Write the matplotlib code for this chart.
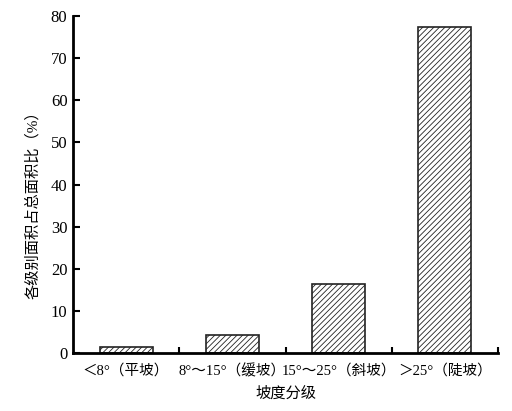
import matplotlib
matplotlib.use('Agg')
import matplotlib.pyplot as plt
import numpy as np

plt.rcParams['font.family'] = ['Liberation Serif', 'Noto Sans CJK SC', 'DejaVu Sans']
plt.rcParams['hatch.linewidth'] = 0.6

# data
categories = ['＜8°（平坡）', '8°～15°（缓坡）', '15°～25°（斜坡）', '＞25°（陡坡）']
shares = [1.5, 4.4, 16.4, 77.4]
y_ticks = [0, 10, 20, 30, 40, 50, 60, 70, 80]

fig = plt.figure(figsize=(5.12, 4.11), dpi=100)
ax = fig.add_axes([0.1426, 0.141, 0.8301, 0.820])

x = np.arange(len(categories))
ax.bar(x, shares, width=0.5, color='white', edgecolor='#222222',
       linewidth=1.2, hatch='//////')

ax.set_xlim(-0.5, 3.5)
ax.set_ylim(0, 80)
ax.set_yticks(y_ticks)
ax.set_xticks(x)
ax.set_xticklabels(categories, fontsize=10.5)
ax.tick_params(axis='x', length=0, pad=8)
ax.set_xticks(np.arange(0.5, 4.0, 1.0), minor=True)
ax.tick_params(axis='x', which='minor', direction='in', length=4, width=1.5)
ax.tick_params(axis='y', direction='in', length=5, width=1.5, labelsize=12, pad=4)

for s in ['top', 'right']:
    ax.spines[s].set_visible(False)
for s in ['left', 'bottom']:
    ax.spines[s].set_linewidth(2)

ax.set_xlabel('坡度分级', fontsize=11, labelpad=6)
ax.set_ylabel('各级别面积占总面积比（%）', fontsize=11)
ax.yaxis.set_label_coords(-0.078, 0.45)

fig.savefig('out.png', dpi=100)
